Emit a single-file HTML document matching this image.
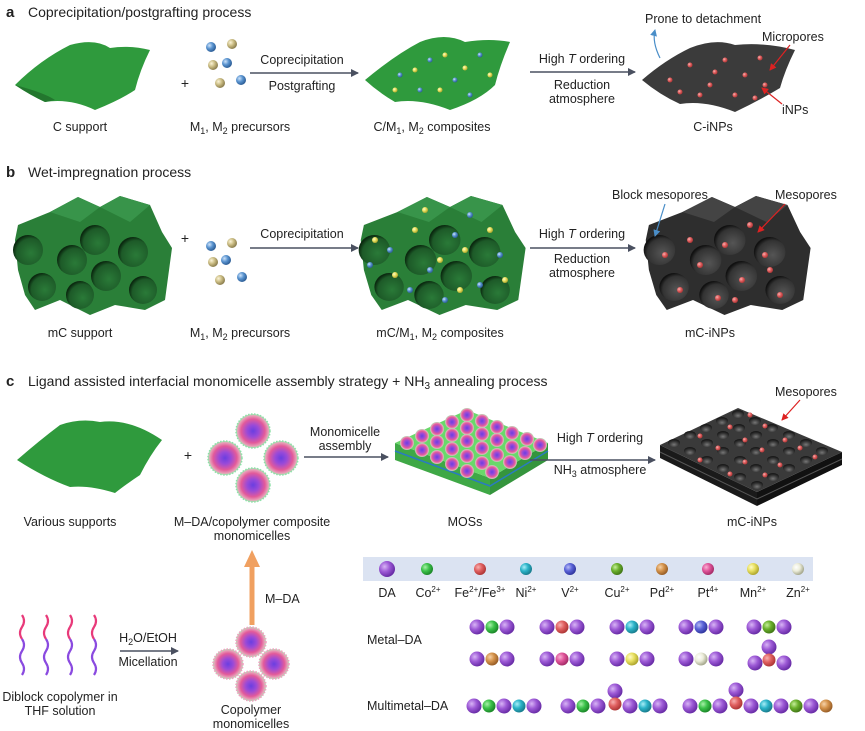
<!DOCTYPE html>
<html><head><meta charset="utf-8"><style>
html,body{margin:0;padding:0;background:#fff}
svg{display:block;font-family:"Liberation Sans",Arial,sans-serif}
text{fill:#222}
</style></head><body>
<svg width="865" height="731" viewBox="0 0 865 731" xmlns="http://www.w3.org/2000/svg">
<defs>
<marker id="ah" markerWidth="8" markerHeight="8" refX="7" refY="4" orient="auto" markerUnits="userSpaceOnUse"><path d="M0,0 L8,4 L0,8 z" fill="#4a5060"/></marker>
<marker id="ar" markerWidth="7" markerHeight="7" refX="6" refY="3.5" orient="auto" markerUnits="userSpaceOnUse"><path d="M0,0 L7,3.5 L0,7 z" fill="#d22"/></marker>
<marker id="ab" markerWidth="7" markerHeight="7" refX="6" refY="3.5" orient="auto" markerUnits="userSpaceOnUse"><path d="M0,0 L7,3.5 L0,7 z" fill="#4a8ec8"/></marker>
<radialGradient id="gP" cx="35%" cy="35%" r="65%"><stop offset="0" stop-color="#d8b4f5"/><stop offset="0.5" stop-color="#9d5ad6"/><stop offset="1" stop-color="#6a2ea8"/></radialGradient>
<radialGradient id="gCo" cx="35%" cy="35%" r="65%"><stop offset="0" stop-color="#a8f0a8"/><stop offset="0.5" stop-color="#3cc24a"/><stop offset="1" stop-color="#1d8a2a"/></radialGradient>
<radialGradient id="gFe" cx="35%" cy="35%" r="65%"><stop offset="0" stop-color="#f7b0b0"/><stop offset="0.5" stop-color="#e06060"/><stop offset="1" stop-color="#b03838"/></radialGradient>
<radialGradient id="gNi" cx="35%" cy="35%" r="65%"><stop offset="0" stop-color="#a8eef8"/><stop offset="0.5" stop-color="#2bb3c8"/><stop offset="1" stop-color="#1a7f90"/></radialGradient>
<radialGradient id="gV" cx="35%" cy="35%" r="65%"><stop offset="0" stop-color="#b8bcf5"/><stop offset="0.5" stop-color="#5a63d8"/><stop offset="1" stop-color="#3238a0"/></radialGradient>
<radialGradient id="gCu" cx="35%" cy="35%" r="65%"><stop offset="0" stop-color="#c6ee9a"/><stop offset="0.5" stop-color="#6ab02c"/><stop offset="1" stop-color="#447a18"/></radialGradient>
<radialGradient id="gPd" cx="35%" cy="35%" r="65%"><stop offset="0" stop-color="#f6d2a8"/><stop offset="0.5" stop-color="#d4924a"/><stop offset="1" stop-color="#9a6028"/></radialGradient>
<radialGradient id="gPt" cx="35%" cy="35%" r="65%"><stop offset="0" stop-color="#f8b0d4"/><stop offset="0.5" stop-color="#e0559a"/><stop offset="1" stop-color="#a82e6a"/></radialGradient>
<radialGradient id="gMn" cx="35%" cy="35%" r="65%"><stop offset="0" stop-color="#fffbc8"/><stop offset="0.5" stop-color="#e8e060"/><stop offset="1" stop-color="#b0a830"/></radialGradient>
<radialGradient id="gZn" cx="35%" cy="35%" r="65%"><stop offset="0" stop-color="#ffffff"/><stop offset="0.5" stop-color="#ecedda"/><stop offset="1" stop-color="#a8aa90"/></radialGradient>
<radialGradient id="gBl" cx="35%" cy="35%" r="65%"><stop offset="0" stop-color="#cfe4fa"/><stop offset="0.5" stop-color="#5a94d0"/><stop offset="1" stop-color="#2e5f98"/></radialGradient>
<radialGradient id="gTa" cx="35%" cy="35%" r="65%"><stop offset="0" stop-color="#fbf4d8"/><stop offset="0.5" stop-color="#cbbd84"/><stop offset="1" stop-color="#8e8050"/></radialGradient>
<radialGradient id="gMic" cx="50%" cy="50%" r="50%"><stop offset="0" stop-color="#6a3ee0"/><stop offset="0.35" stop-color="#9a4ad8"/><stop offset="0.7" stop-color="#e35a9a"/><stop offset="0.9" stop-color="#e8a0b8"/><stop offset="1" stop-color="#9ee8b0"/></radialGradient>
<radialGradient id="gHole" cx="60%" cy="60%" r="60%"><stop offset="0" stop-color="#2a7a38"/><stop offset="0.8" stop-color="#1d5a28"/><stop offset="1" stop-color="#0b2a10"/></radialGradient>
<radialGradient id="gHoleD" cx="60%" cy="60%" r="60%"><stop offset="0" stop-color="#555"/><stop offset="0.8" stop-color="#333"/><stop offset="1" stop-color="#111"/></radialGradient>
<radialGradient id="gPit" cx="50%" cy="70%" r="60%"><stop offset="0" stop-color="#777"/><stop offset="0.6" stop-color="#3a3a3a"/><stop offset="1" stop-color="#1a1a1a"/></radialGradient>
</defs>

<!-- ===== Panel a ===== -->
<text x="6" y="17" font-size="15" font-weight="bold">a</text>
<text x="28" y="17" font-size="14">Coprecipitation/postgrafting process</text>
<path d="M15,85 Q40,60 70,45 Q95,38 110,48 Q130,45 150,50 Q140,70 135,90 Q120,100 95,110 Q70,98 45,102 Q30,95 15,85 z" fill="#2f9a3d"/>
<path d="M15,85 Q45,93 55,100 L45,102 Q30,95 15,85z" fill="#23772e"/>
<g fill="url(#gBl)"><circle cx="211" cy="47" r="5"/><circle cx="227" cy="63" r="5"/><circle cx="241" cy="80" r="5"/></g>
<g fill="url(#gTa)"><circle cx="232" cy="44" r="5"/><circle cx="213" cy="65" r="5"/><circle cx="220" cy="83" r="5"/></g>
<text x="185" y="88" font-size="14" text-anchor="middle">+</text>
<line x1="250" y1="73" x2="358" y2="73" stroke="#4a5060" stroke-width="1.5" marker-end="url(#ah)"/>
<text x="302" y="64" font-size="12.5" text-anchor="middle">Coprecipitation</text>
<text x="302" y="90" font-size="12.5" text-anchor="middle">Postgrafting</text>
<path d="M365,80 Q395,55 420,42 Q445,32 465,42 Q490,38 510,42 Q500,65 495,85 Q480,100 450,110 Q420,98 395,102 Q378,92 365,80 z" fill="#2f9a3d"/>
<g fill="url(#gBl)"><circle cx="400" cy="75" r="2.5"/><circle cx="430" cy="60" r="2.5"/><circle cx="455" cy="80" r="2.5"/><circle cx="480" cy="55" r="2.5"/><circle cx="420" cy="90" r="2.5"/><circle cx="470" cy="95" r="2.5"/></g>
<g fill="url(#gMn)"><circle cx="415" cy="70" r="2.5"/><circle cx="445" cy="55" r="2.5"/><circle cx="440" cy="90" r="2.5"/><circle cx="490" cy="75" r="2.5"/><circle cx="465" cy="68" r="2.5"/><circle cx="395" cy="90" r="2.5"/></g>
<line x1="530" y1="72" x2="635" y2="72" stroke="#4a5060" stroke-width="1.5" marker-end="url(#ah)"/>
<text x="582" y="63" font-size="12.5" text-anchor="middle">High <tspan font-style="italic">T</tspan> ordering</text>
<text x="582" y="89" font-size="12.5" text-anchor="middle">Reduction</text>
<text x="582" y="103" font-size="12.5" text-anchor="middle">atmosphere</text>
<path d="M642,80 Q665,60 690,48 Q715,38 735,45 Q765,42 795,50 Q785,70 780,88 Q760,100 735,112 Q705,100 680,104 Q660,95 642,80 z" fill="#3b3b3b"/>
<g fill="url(#gFe)"><circle cx="670" cy="80" r="2.5"/><circle cx="690" cy="65" r="2.5"/><circle cx="710" cy="85" r="2.5"/><circle cx="725" cy="60" r="2.5"/><circle cx="745" cy="75" r="2.5"/><circle cx="760" cy="58" r="2.5"/><circle cx="700" cy="95" r="2.5"/><circle cx="735" cy="95" r="2.5"/><circle cx="765" cy="85" r="2.5"/><circle cx="680" cy="92" r="2.5"/><circle cx="755" cy="98" r="2.5"/><circle cx="715" cy="72" r="2.5"/></g>
<path d="M660,58 Q652,42 655,30" fill="none" stroke="#4a8ec8" stroke-width="1.2" marker-end="url(#ab)"/>
<text x="645" y="23" font-size="12.5">Prone to detachment</text>
<text x="762" y="41" font-size="12.5">Micropores</text>
<line x1="790" y1="45" x2="770" y2="70" stroke="#d22" stroke-width="1.2" marker-end="url(#ar)"/>
<text x="782" y="114" font-size="12.5">iNPs</text>
<line x1="782" y1="104" x2="762" y2="88" stroke="#d22" stroke-width="1.2" marker-end="url(#ar)"/>
<text x="80" y="131" font-size="12.5" text-anchor="middle">C support</text>
<text x="240" y="131" font-size="12.5" text-anchor="middle">M<tspan font-size="9" dy="3">1</tspan><tspan dy="-3">, M</tspan><tspan font-size="9" dy="3">2</tspan><tspan dy="-3"> precursors</tspan></text>
<text x="432" y="131" font-size="12.5" text-anchor="middle">C/M<tspan font-size="9" dy="3">1</tspan><tspan dy="-3">, M</tspan><tspan font-size="9" dy="3">2</tspan><tspan dy="-3"> composites</tspan></text>
<text x="713" y="131" font-size="12.5" text-anchor="middle">C-iNPs</text>

<!-- ===== Panel b ===== -->
<text x="6" y="177" font-size="15" font-weight="bold">b</text>
<text x="28" y="177" font-size="14">Wet-impregnation process</text>
<g id="hexg">
<path d="M15,240 L18,225 L50,212 L78,197 L100,207 L120,196 L150,205 L162,232 L172,248 L165,300 L145,310 L115,305 L90,315 L60,300 L35,310 L25,295 L18,270 z" fill="#2a7f38"/>
<path d="M50,212 L78,197 L100,207 L80,222z M120,196 L150,205 L130,222 L100,207z" fill="#38944a"/>
<g fill="url(#gHole)"><circle cx="28" cy="250" r="15"/><circle cx="72" cy="260" r="15"/><circle cx="95" cy="240" r="15"/><circle cx="133" cy="252" r="15"/><circle cx="42" cy="287" r="14"/><circle cx="80" cy="295" r="14"/><circle cx="106" cy="276" r="15"/><circle cx="143" cy="290" r="14"/></g>
</g>
<g fill="url(#gBl)"><circle cx="211" cy="246" r="5"/><circle cx="226" cy="260" r="5"/><circle cx="242" cy="277" r="5"/></g>
<g fill="url(#gTa)"><circle cx="232" cy="243" r="5"/><circle cx="213" cy="262" r="5"/><circle cx="220" cy="280" r="5"/></g>
<text x="185" y="243" font-size="14" text-anchor="middle">+</text>
<line x1="250" y1="248" x2="358" y2="248" stroke="#4a5060" stroke-width="1.5" marker-end="url(#ah)"/>
<text x="302" y="238" font-size="12.5" text-anchor="middle">Coprecipitation</text>
<use href="#hexg" transform="translate(345,0) scale(1.05,1)"/>
<g fill="url(#gBl)"><circle cx="390" cy="250" r="3"/><circle cx="430" cy="270" r="3"/><circle cx="455" cy="235" r="3"/><circle cx="480" cy="285" r="3"/><circle cx="500" cy="255" r="3"/><circle cx="410" cy="290" r="3"/><circle cx="445" cy="300" r="3"/><circle cx="370" cy="265" r="3"/><circle cx="470" cy="215" r="3"/></g>
<g fill="url(#gMn)"><circle cx="375" cy="240" r="3"/><circle cx="415" cy="230" r="3"/><circle cx="440" cy="260" r="3"/><circle cx="465" cy="250" r="3"/><circle cx="505" cy="280" r="3"/><circle cx="395" cy="275" r="3"/><circle cx="425" cy="210" r="3"/><circle cx="490" cy="230" r="3"/><circle cx="460" cy="290" r="3"/></g>
<line x1="530" y1="248" x2="635" y2="248" stroke="#4a5060" stroke-width="1.5" marker-end="url(#ah)"/>
<text x="582" y="238" font-size="12.5" text-anchor="middle">High <tspan font-style="italic">T</tspan> ordering</text>
<text x="582" y="263" font-size="12.5" text-anchor="middle">Reduction</text>
<text x="582" y="277" font-size="12.5" text-anchor="middle">atmosphere</text>
<g transform="translate(630,0) scale(1.05,1)">
<path d="M15,240 L18,225 L50,212 L78,197 L100,207 L120,196 L150,205 L162,232 L172,248 L165,300 L145,310 L115,305 L90,315 L60,300 L35,310 L25,295 L18,270 z" fill="#2e2e2e"/>
<path d="M50,212 L78,197 L100,207 L80,222z M120,196 L150,205 L130,222 L100,207z" fill="#444"/>
<g fill="url(#gHoleD)"><circle cx="28" cy="250" r="15"/><circle cx="72" cy="260" r="15"/><circle cx="95" cy="240" r="15"/><circle cx="133" cy="252" r="15"/><circle cx="42" cy="287" r="14"/><circle cx="80" cy="295" r="14"/><circle cx="106" cy="276" r="15"/><circle cx="143" cy="290" r="14"/></g>
</g>
<g fill="url(#gFe)"><circle cx="665" cy="255" r="3"/><circle cx="700" cy="265" r="3"/><circle cx="725" cy="245" r="3"/><circle cx="765" cy="255" r="3"/><circle cx="680" cy="290" r="3"/><circle cx="718" cy="298" r="3"/><circle cx="742" cy="280" r="3"/><circle cx="780" cy="295" r="3"/><circle cx="690" cy="240" r="3"/><circle cx="750" cy="225" r="3"/><circle cx="770" cy="270" r="3"/><circle cx="735" cy="300" r="3"/></g>
<text x="612" y="199" font-size="12.5">Block mesopores</text>
<line x1="665" y1="204" x2="655" y2="236" stroke="#4a8ec8" stroke-width="1.2" marker-end="url(#ab)"/>
<text x="775" y="199" font-size="12.5">Mesopores</text>
<line x1="785" y1="204" x2="758" y2="232" stroke="#d22" stroke-width="1.2" marker-end="url(#ar)"/>
<text x="80" y="337" font-size="12.5" text-anchor="middle">mC support</text>
<text x="240" y="337" font-size="12.5" text-anchor="middle">M<tspan font-size="9" dy="3">1</tspan><tspan dy="-3">, M</tspan><tspan font-size="9" dy="3">2</tspan><tspan dy="-3">  precursors</tspan></text>
<text x="440" y="337" font-size="12.5" text-anchor="middle">mC/M<tspan font-size="9" dy="3">1</tspan><tspan dy="-3">, M</tspan><tspan font-size="9" dy="3">2</tspan><tspan dy="-3">  composites</tspan></text>
<text x="710" y="337" font-size="12.5" text-anchor="middle">mC-iNPs</text>

<!-- ===== Panel c ===== -->
<text x="6" y="386" font-size="15" font-weight="bold">c</text>
<text x="28" y="386" font-size="14">Ligand assisted interfacial monomicelle assembly strategy + NH<tspan font-size="10" dy="3">3</tspan><tspan dy="-3"> annealing process</tspan></text>
<path d="M17,460 Q40,440 60,425 Q80,418 100,422 Q130,418 162,440 Q150,455 140,475 Q125,485 115,493 Q90,485 70,487 Q45,478 17,460 z" fill="#2f9a3d"/>
<text x="188" y="460" font-size="14" text-anchor="middle">+</text>
<g fill="url(#gMic)" stroke="#8de0a8" stroke-width="1.5" stroke-dasharray="1.5,1.5">
<circle cx="253" cy="431" r="17"/><circle cx="225" cy="458" r="17"/><circle cx="281" cy="458" r="17"/><circle cx="253" cy="485" r="17"/></g>
<line x1="304" y1="457" x2="388" y2="457" stroke="#4a5060" stroke-width="1.5" marker-end="url(#ah)"/>
<text x="345" y="436" font-size="12.5" text-anchor="middle">Monomicelle</text>
<text x="345" y="450" font-size="12.5" text-anchor="middle">assembly</text>
<!-- MOS block -->
<path d="M395,443 L490,478 L490,495 L395,460z" fill="#3fa846"/>
<path d="M490,478 L548,443 L548,460 L490,495z" fill="#35953d"/>
<path d="M395,451 L490,486 L548,451" fill="none" stroke="#2a7bc0" stroke-width="1.5"/>
<path d="M395,443 L467,410 L548,443 L490,478z" fill="#6ad86a"/>
<g fill="url(#gMic)">
<circle cx="467" cy="415" r="7"/><circle cx="452" cy="422" r="7"/><circle cx="482" cy="421" r="7"/><circle cx="437" cy="429" r="7"/><circle cx="467" cy="428" r="7"/><circle cx="497" cy="427" r="7"/><circle cx="422" cy="436" r="7"/><circle cx="452" cy="435" r="7"/><circle cx="482" cy="434" r="7"/><circle cx="512" cy="433" r="7"/><circle cx="407" cy="443" r="7"/><circle cx="437" cy="442" r="7"/><circle cx="467" cy="441" r="7"/><circle cx="497" cy="440" r="7"/><circle cx="527" cy="439" r="7"/><circle cx="422" cy="450" r="7"/><circle cx="452" cy="449" r="7"/><circle cx="482" cy="448" r="7"/><circle cx="512" cy="447" r="7"/><circle cx="540" cy="445" r="7"/><circle cx="437" cy="457" r="7"/><circle cx="467" cy="456" r="7"/><circle cx="497" cy="455" r="7"/><circle cx="525" cy="453" r="7"/><circle cx="452" cy="464" r="7"/><circle cx="482" cy="463" r="7"/><circle cx="510" cy="462" r="7"/><circle cx="467" cy="471" r="7"/><circle cx="492" cy="472" r="7"/>
</g>
<line x1="530" y1="460" x2="655" y2="460" stroke="#4a5060" stroke-width="1.5" marker-end="url(#ah)"/>
<text x="600" y="442" font-size="12.5" text-anchor="middle">High <tspan font-style="italic">T</tspan> ordering</text>
<text x="600" y="474" font-size="12.5" text-anchor="middle">NH<tspan font-size="9" dy="3">3</tspan><tspan dy="-3"> atmosphere</tspan></text>
<!-- dark block -->
<path d="M660,445 L757,492 L757,506 L660,458z" fill="#1a1a1a"/>
<path d="M757,492 L842,452 L842,465 L757,506z" fill="#111"/>
<path d="M660,452 L757,499 L842,459" fill="none" stroke="#555" stroke-width="1"/>
<path d="M660,445 L738,408 L842,452 L757,492z" fill="#3a3a3a"/>
<g fill="url(#gPit)">
<ellipse cx="738" cy="414" rx="6" ry="4"/><ellipse cx="722" cy="421" rx="6" ry="4"/><ellipse cx="755" cy="421" rx="6" ry="4"/><ellipse cx="706" cy="428" rx="6" ry="4"/><ellipse cx="739" cy="428" rx="6" ry="4"/><ellipse cx="772" cy="428" rx="6" ry="4"/><ellipse cx="690" cy="435" rx="6" ry="4"/><ellipse cx="723" cy="435" rx="6" ry="4"/><ellipse cx="756" cy="435" rx="6" ry="4"/><ellipse cx="789" cy="435" rx="6" ry="4"/><ellipse cx="674" cy="443" rx="6" ry="4"/><ellipse cx="707" cy="443" rx="6" ry="4"/><ellipse cx="740" cy="443" rx="6" ry="4"/><ellipse cx="773" cy="443" rx="6" ry="4"/><ellipse cx="806" cy="443" rx="6" ry="4"/><ellipse cx="690" cy="451" rx="6" ry="4"/><ellipse cx="723" cy="451" rx="6" ry="4"/><ellipse cx="756" cy="451" rx="6" ry="4"/><ellipse cx="789" cy="451" rx="6" ry="4"/><ellipse cx="822" cy="451" rx="6" ry="4"/><ellipse cx="707" cy="460" rx="6" ry="4"/><ellipse cx="740" cy="460" rx="6" ry="4"/><ellipse cx="773" cy="460" rx="6" ry="4"/><ellipse cx="806" cy="460" rx="6" ry="4"/><ellipse cx="723" cy="468" rx="6" ry="4"/><ellipse cx="756" cy="468" rx="6" ry="4"/><ellipse cx="789" cy="468" rx="6" ry="4"/><ellipse cx="740" cy="477" rx="6" ry="4"/><ellipse cx="773" cy="477" rx="6" ry="4"/><ellipse cx="757" cy="485" rx="6" ry="4"/>
</g>
<g fill="url(#gFe)"><circle cx="750" cy="415" r="2.5"/><circle cx="730" cy="427" r="2.5"/><circle cx="765" cy="426" r="2.5"/><circle cx="700" cy="436" r="2.5"/><circle cx="745" cy="440" r="2.5"/><circle cx="785" cy="440" r="2.5"/><circle cx="718" cy="448" r="2.5"/><circle cx="762" cy="450" r="2.5"/><circle cx="800" cy="448" r="2.5"/><circle cx="700" cy="460" r="2.5"/><circle cx="745" cy="462" r="2.5"/><circle cx="780" cy="465" r="2.5"/><circle cx="730" cy="474" r="2.5"/><circle cx="765" cy="475" r="2.5"/><circle cx="815" cy="457" r="2.5"/></g>
<text x="775" y="396" font-size="12.5">Mesopores</text>
<line x1="800" y1="400" x2="782" y2="420" stroke="#d22" stroke-width="1.2" marker-end="url(#ar)"/>
<text x="70" y="526" font-size="12.5" text-anchor="middle">Various supports</text>
<text x="252" y="526" font-size="12.5" text-anchor="middle">M–DA/copolymer composite</text>
<text x="252" y="540" font-size="12.5" text-anchor="middle">monomicelles</text>
<text x="465" y="526" font-size="12.5" text-anchor="middle">MOSs</text>
<text x="752" y="526" font-size="12.5" text-anchor="middle">mC-iNPs</text>
<!-- orange arrow -->
<line x1="252" y1="625" x2="252" y2="565" stroke="#f0a060" stroke-width="5"/>
<path d="M244,567 L252,550 L260,567z" fill="#f0a060"/>
<text x="265" y="603" font-size="12.5">M–DA</text>
<!-- copolymer chains -->
<g fill="none" stroke-width="2.2">
<path d="M22,615 q4,6 0,12 t0,12" stroke="#e83a7a"/><path d="M22,639 q4,6 0,12 t0,12 t0,12" stroke="#8a4ae0"/>
<path d="M46,615 q4,6 0,12 t0,12" stroke="#e83a7a"/><path d="M46,639 q4,6 0,12 t0,12 t0,12" stroke="#8a4ae0"/>
<path d="M70,615 q4,6 0,12 t0,12" stroke="#e83a7a"/><path d="M70,639 q4,6 0,12 t0,12 t0,12" stroke="#8a4ae0"/>
<path d="M94,615 q4,6 0,12 t0,12" stroke="#e83a7a"/><path d="M94,639 q4,6 0,12 t0,12 t0,12" stroke="#8a4ae0"/>
</g>
<text x="148" y="642" font-size="12.5" text-anchor="middle">H<tspan font-size="9" dy="3">2</tspan><tspan dy="-3">O/EtOH</tspan></text>
<line x1="120" y1="651" x2="178" y2="651" stroke="#4a5060" stroke-width="1.5" marker-end="url(#ah)"/>
<text x="148" y="666" font-size="12.5" text-anchor="middle">Micellation</text>
<g fill="url(#gMic)" stroke="#f0a0c0" stroke-width="1.5" stroke-dasharray="1.5,1.5">
<circle cx="251" cy="642" r="15"/><circle cx="228" cy="664" r="15"/><circle cx="274" cy="664" r="15"/><circle cx="251" cy="686" r="15"/></g>
<text x="60" y="701" font-size="12.5" text-anchor="middle">Diblock copolymer in</text>
<text x="60" y="715" font-size="12.5" text-anchor="middle">THF solution</text>
<text x="251" y="714" font-size="12.5" text-anchor="middle">Copolymer</text>
<text x="251" y="728" font-size="12.5" text-anchor="middle">monomicelles</text>
<!-- legend -->
<rect x="363" y="557" width="450" height="24" fill="#dbe3f2"/>
<circle cx="387" cy="569" r="8" fill="url(#gP)"/>
<circle cx="427" cy="569" r="6" fill="url(#gCo)"/>
<circle cx="480" cy="569" r="6" fill="url(#gFe)"/>
<circle cx="526" cy="569" r="6" fill="url(#gNi)"/>
<circle cx="570" cy="569" r="6" fill="url(#gV)"/>
<circle cx="617" cy="569" r="6" fill="url(#gCu)"/>
<circle cx="662" cy="569" r="6" fill="url(#gPd)"/>
<circle cx="708" cy="569" r="6" fill="url(#gPt)"/>
<circle cx="753" cy="569" r="6" fill="url(#gMn)"/>
<circle cx="798" cy="569" r="6" fill="url(#gZn)"/>
<g font-size="12.5" text-anchor="middle">
<text x="387" y="597">DA</text>
<text x="428" y="597">Co<tspan font-size="8" dy="-5">2+</tspan></text>
<text x="480" y="597">Fe<tspan font-size="8" dy="-5">2+</tspan><tspan dy="5">/Fe</tspan><tspan font-size="8" dy="-5">3+</tspan></text>
<text x="526" y="597">Ni<tspan font-size="8" dy="-5">2+</tspan></text>
<text x="570" y="597">V<tspan font-size="8" dy="-5">2+</tspan></text>
<text x="617" y="597">Cu<tspan font-size="8" dy="-5">2+</tspan></text>
<text x="662" y="597">Pd<tspan font-size="8" dy="-5">2+</tspan></text>
<text x="708" y="597">Pt<tspan font-size="8" dy="-5">4+</tspan></text>
<text x="753" y="597">Mn<tspan font-size="8" dy="-5">2+</tspan></text>
<text x="798" y="597">Zn<tspan font-size="8" dy="-5">2+</tspan></text>
</g>
<text x="367" y="644" font-size="12.5">Metal–DA</text>
<text x="367" y="710" font-size="12.5">Multimetal–DA</text>
<!-- Metal-DA row 1 -->
<g>
<circle cx="477" cy="627" r="7.5" fill="url(#gP)"/><circle cx="492" cy="627" r="6.5" fill="url(#gCo)"/><circle cx="507" cy="627" r="7.5" fill="url(#gP)"/>
<circle cx="547" cy="627" r="7.5" fill="url(#gP)"/><circle cx="562" cy="627" r="6.5" fill="url(#gFe)"/><circle cx="577" cy="627" r="7.5" fill="url(#gP)"/>
<circle cx="617" cy="627" r="7.5" fill="url(#gP)"/><circle cx="632" cy="627" r="6.5" fill="url(#gNi)"/><circle cx="647" cy="627" r="7.5" fill="url(#gP)"/>
<circle cx="686" cy="627" r="7.5" fill="url(#gP)"/><circle cx="701" cy="627" r="6.5" fill="url(#gV)"/><circle cx="716" cy="627" r="7.5" fill="url(#gP)"/>
<circle cx="754" cy="627" r="7.5" fill="url(#gP)"/><circle cx="769" cy="627" r="6.5" fill="url(#gCu)"/><circle cx="784" cy="627" r="7.5" fill="url(#gP)"/>
</g>
<g>
<circle cx="477" cy="659" r="7.5" fill="url(#gP)"/><circle cx="492" cy="659" r="6.5" fill="url(#gPd)"/><circle cx="507" cy="659" r="7.5" fill="url(#gP)"/>
<circle cx="547" cy="659" r="7.5" fill="url(#gP)"/><circle cx="562" cy="659" r="6.5" fill="url(#gPt)"/><circle cx="577" cy="659" r="7.5" fill="url(#gP)"/>
<circle cx="617" cy="659" r="7.5" fill="url(#gP)"/><circle cx="632" cy="659" r="6.5" fill="url(#gMn)"/><circle cx="647" cy="659" r="7.5" fill="url(#gP)"/>
<circle cx="686" cy="659" r="7.5" fill="url(#gP)"/><circle cx="701" cy="659" r="6.5" fill="url(#gZn)"/><circle cx="716" cy="659" r="7.5" fill="url(#gP)"/>
<circle cx="769" cy="647" r="7.5" fill="url(#gP)"/>
<circle cx="755" cy="663" r="7.5" fill="url(#gP)"/><circle cx="784" cy="663" r="7.5" fill="url(#gP)"/><circle cx="769" cy="660" r="6.5" fill="url(#gFe)"/>
</g>
<!-- Multimetal -->
<g>
<circle cx="474" cy="706" r="7.5" fill="url(#gP)"/><circle cx="489" cy="706" r="6.5" fill="url(#gCo)"/><circle cx="504" cy="706" r="7.5" fill="url(#gP)"/><circle cx="519" cy="706" r="6.5" fill="url(#gNi)"/><circle cx="534" cy="706" r="7.5" fill="url(#gP)"/>
<circle cx="615" cy="691" r="7.5" fill="url(#gP)"/>
<circle cx="568" cy="706" r="7.5" fill="url(#gP)"/><circle cx="583" cy="706" r="6.5" fill="url(#gCo)"/><circle cx="598" cy="706" r="7.5" fill="url(#gP)"/><circle cx="630" cy="706" r="7.5" fill="url(#gP)"/><circle cx="615" cy="704" r="6.5" fill="url(#gFe)"/><circle cx="645" cy="706" r="6.5" fill="url(#gNi)"/><circle cx="660" cy="706" r="7.5" fill="url(#gP)"/>
<circle cx="736" cy="690" r="7.5" fill="url(#gP)"/>
<circle cx="690" cy="706" r="7.5" fill="url(#gP)"/><circle cx="705" cy="706" r="6.5" fill="url(#gCo)"/><circle cx="720" cy="706" r="7.5" fill="url(#gP)"/><circle cx="751" cy="706" r="7.5" fill="url(#gP)"/><circle cx="736" cy="703" r="6.5" fill="url(#gFe)"/><circle cx="766" cy="706" r="6.5" fill="url(#gNi)"/><circle cx="781" cy="706" r="7.5" fill="url(#gP)"/><circle cx="796" cy="706" r="6.5" fill="url(#gCu)"/><circle cx="811" cy="706" r="7.5" fill="url(#gP)"/><circle cx="826" cy="706" r="6.5" fill="url(#gPd)"/>
</g>
</svg>
</body></html>
